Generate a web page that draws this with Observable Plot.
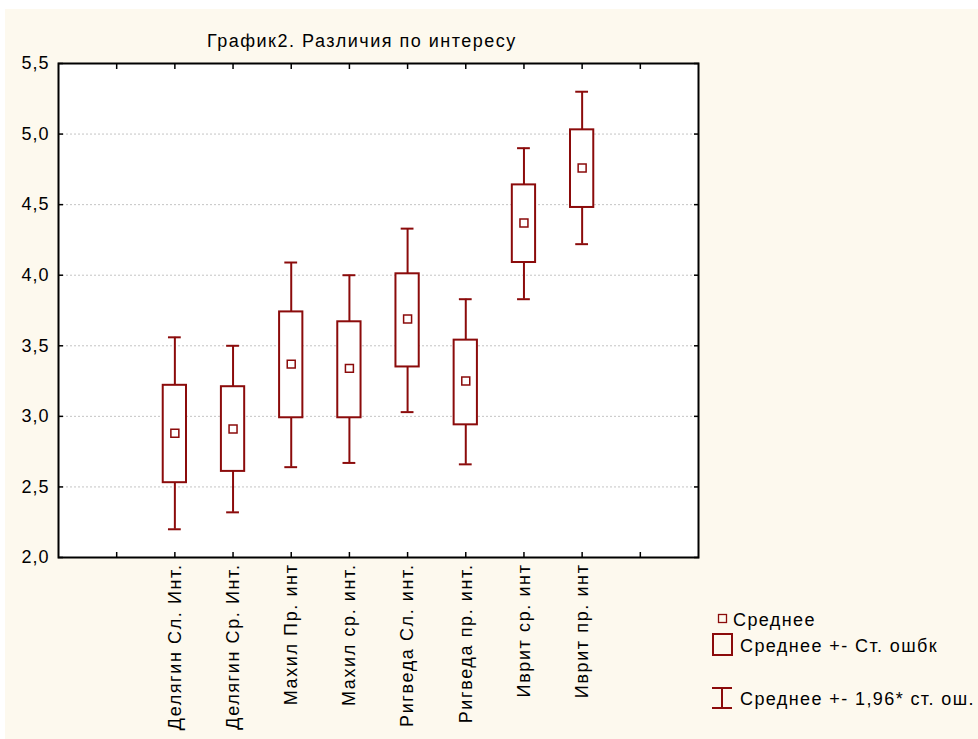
<!DOCTYPE html>
<html>
<head>
<meta charset="utf-8">
<script src="https://cdn.jsdelivr.net/npm/d3@7"></script>
<script src="https://cdn.jsdelivr.net/npm/@observablehq/plot@0.6"></script>
<style>
  html, body { margin: 0; padding: 0; background: #ffffff; }
  #wrap { position: relative; width: 978px; height: 739px; overflow: hidden;
          font-family: "Liberation Sans", Arial, sans-serif; color: #000; }
  #bg { position: absolute; left: 5px; top: 9px; right: 0; bottom: 0; background: #fdf9ee; }
  #chart { position: absolute; left: 0; top: 0; }
  #title { position: absolute; left: 207px; top: 31px; font-size: 18px; letter-spacing: 1.5px; white-space: nowrap; }
  .leg { position: absolute; font-size: 18px; letter-spacing: 1.4px; white-space: nowrap; line-height: 20px; }
  .leg svg { position: absolute; overflow: visible; }
  #chart g[aria-label="x-axis tick label"] text { letter-spacing: 1.6px; }
  #chart g[aria-label="y-axis tick label"] text { letter-spacing: 1px; }
</style>
</head>
<body>
<div id="wrap">
  <div id="bg"></div>
  <div id="chart"></div>
  <div id="title"></div>
  <div id="legend"></div>
</div>
<script>
// ---- data ----
const categories = ["Делягин Сл. Инт.", "Делягин Ср. Инт.", "Махил Пр. инт", "Махил ср. инт.",
                    "Ригведа Сл. инт.", "Ригведа пр. инт.", "Иврит ср. инт", "Иврит пр. инт"];
const means  = [2.88, 2.91, 3.37, 3.34, 3.69, 3.25, 4.37, 4.76];
const seLow  = [2.53, 2.61, 2.99, 2.99, 3.35, 2.94, 4.09, 4.48];
const seHigh = [3.22, 3.21, 3.74, 3.67, 4.01, 3.54, 4.64, 5.03];
const ciLow  = [2.20, 2.32, 2.64, 2.67, 3.03, 2.66, 3.83, 4.22];
const ciHigh = [3.56, 3.50, 4.09, 4.00, 4.33, 3.83, 4.90, 5.30];
const xTickLabels = ["", ...categories, ""];
const yTickValues = [2.0, 2.5, 3.0, 3.5, 4.0, 4.5, 5.0, 5.5];
const titleText = "График2. Различия по интересу";
const legendLabels = ["Среднее", "Среднее +- Ст. ошбк", "Среднее +- 1,96* ст. ош."];

// ---- build ----
const red = "#8b0b0b";
const rows = categories.map((c, i) => ({
  cat: c, pos: i + 2, mean: means[i],
  seLow: seLow[i], seHigh: seHigh[i], ciLow: ciLow[i], ciHigh: ciHigh[i]
}));
const xTickPos = xTickLabels.map((_, i) => i + 1);
const boxHalf = 0.2, capHalf = 0.11;
const fmt = d => d3.format(".1f")(d).replace(".", ",");

const chart = Plot.plot({
  width: 978, height: 739,
  marginLeft: 58, marginTop: 63, marginRight: 280, marginBottom: 182,
  style: { background: "transparent", fontFamily: "'Liberation Sans', Arial, sans-serif", fontSize: "18px", color: "#000", overflow: "visible" },
  x: { type: "linear", domain: [0, xTickLabels.length + 1], axis: null },
  y: { domain: [yTickValues[0], yTickValues[yTickValues.length - 1]], axis: null },
  marks: [
    Plot.frame({ fill: "white" }),
    Plot.gridY(yTickValues.slice(1, -1), { stroke: "#c4c4c4", strokeOpacity: 1, strokeDasharray: "2,2" }),
    // y labels
    Plot.axisY(yTickValues, { anchor: "left", tickSize: 0, tickPadding: 9, tickFormat: fmt, fontSize: 18, label: null }),
    // inward ticks
    Plot.axisY(yTickValues, { anchor: "left", tickSize: -5, tickFormat: () => "", strokeWidth: 1.5, label: null }),
    Plot.axisY(yTickValues, { anchor: "right", tickSize: -5, tickFormat: () => "", strokeWidth: 1.5, label: null }),
    Plot.axisX(xTickPos, { anchor: "top", tickSize: -5, tickFormat: () => "", strokeWidth: 1.5, label: null }),
    Plot.axisX(xTickPos, { anchor: "bottom", tickSize: -5, tickFormat: () => "", strokeWidth: 1.5, label: null }),
    // x labels
    Plot.axisX(xTickPos, { anchor: "bottom", tickSize: 0, tickPadding: 6, tickRotate: -90,
                           tickFormat: d => xTickLabels[d - 1], fontSize: 18, label: null }),
    // whiskers
    Plot.ruleX(rows, { x: "pos", y1: "ciLow", y2: "seLow", stroke: red, strokeWidth: 2 }),
    Plot.ruleX(rows, { x: "pos", y1: "seHigh", y2: "ciHigh", stroke: red, strokeWidth: 2 }),
    Plot.ruleY(rows, { y: "ciLow", x1: d => d.pos - capHalf, x2: d => d.pos + capHalf, stroke: red, strokeWidth: 2 }),
    Plot.ruleY(rows, { y: "ciHigh", x1: d => d.pos - capHalf, x2: d => d.pos + capHalf, stroke: red, strokeWidth: 2 }),
    // boxes
    Plot.rect(rows, { x1: d => d.pos - boxHalf, x2: d => d.pos + boxHalf, y1: "seLow", y2: "seHigh",
                      fill: "white", stroke: red, strokeWidth: 2 }),
    // means
    Plot.dot(rows, { x: "pos", y: "mean", symbol: "square", r: 4.5, stroke: red, strokeWidth: 1.5, fill: "white" }),
    Plot.frame({ stroke: "#000", strokeWidth: 2 })
  ]
});
document.getElementById("chart").appendChild(chart);
document.getElementById("title").textContent = titleText;

// ---- legend ----
const legend = document.getElementById("legend");
const items = [
  { left: 733, top: 610, label: legendLabels[0],
    svg: `<svg width="10" height="10" style="left:-15px;top:4px"><rect x="0.5" y="0.5" width="8" height="8" fill="none" stroke="${red}" stroke-width="1.3"/></svg>` },
  { left: 740, top: 636, label: legendLabels[1],
    svg: `<svg width="22" height="24" style="left:-28px;top:-3px"><rect x="1" y="1" width="19" height="21" fill="none" stroke="${red}" stroke-width="2"/></svg>` },
  { left: 740, top: 689, label: legendLabels[2],
    svg: `<svg width="22" height="24" style="left:-28px;top:-2px"><line x1="0" x2="20" y1="1" y2="1" stroke="${red}" stroke-width="2"/><line x1="10" x2="10" y1="1" y2="21" stroke="${red}" stroke-width="2"/><line x1="0" x2="20" y1="21" y2="21" stroke="${red}" stroke-width="2"/></svg>` }
];
for (const it of items) {
  const d = document.createElement("div");
  d.className = "leg";
  d.style.left = it.left + "px";
  d.style.top = it.top + "px";
  d.innerHTML = it.svg + "<span></span>";
  d.querySelector("span").textContent = it.label;
  legend.appendChild(d);
}
</script>
</body>
</html>
